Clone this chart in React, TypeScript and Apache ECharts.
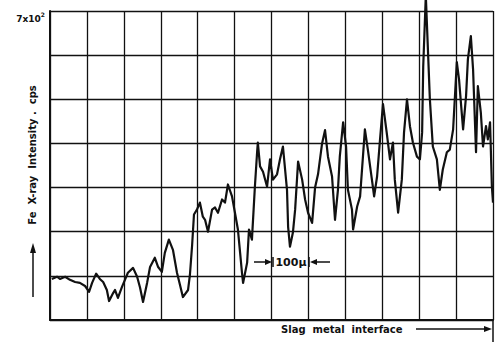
import React, { useEffect, useRef } from "react";
import * as echarts from "echarts";

// distance from the left edge of the scan (μm) and Fe X-ray intensity (cps)
const positionUm = [
  5, 19, 27, 41, 54, 68, 81, 95, 106, 114, 125, 135, 144, 154, 160, 171, 176, 184, 195, 203,
  211, 225, 236, 244, 252, 263, 271, 284, 293, 303, 311, 322, 333, 344, 352, 360, 374, 379, 385, 390,
  398, 406, 414, 420, 428, 439, 447, 455, 466, 474, 482, 493, 501, 509, 515, 520, 523, 534, 539, 547,
  555, 561, 563, 569, 577, 588, 596, 604, 615, 623, 631, 642, 645, 650, 658, 664, 672, 683, 691, 699,
  710, 718, 726, 737, 745, 753, 764, 772, 780, 785, 794, 802, 807, 818, 821, 832, 840, 853, 861, 872,
  878, 886, 894, 902, 912, 921, 929, 934, 943, 953, 959, 967, 975, 983, 994, 1002, 1008, 1011, 1018, 1029,
  1037, 1048, 1056, 1064, 1075, 1083, 1092, 1102, 1108, 1113, 1119, 1127, 1132, 1140, 1146, 1154, 1159, 1167, 1173, 1181,
  1186, 1192, 1197, 1200,
];
const intensityCps = [
  93, 98, 93, 98, 91, 86, 84, 77, 64, 84, 105, 93, 86, 68, 43, 61, 68, 50, 75, 91,
  107, 118, 98, 73, 41, 84, 120, 141, 120, 109, 152, 182, 159, 107, 80, 52, 68, 102, 170, 239,
  250, 266, 234, 227, 200, 250, 255, 243, 273, 266, 307, 280, 243, 205, 152, 107, 84, 130, 205, 182,
  302, 380, 402, 348, 336, 302, 364, 318, 330, 364, 393, 295, 211, 166, 198, 250, 359, 318, 273, 243,
  220, 300, 330, 400, 430, 370, 325, 227, 295, 370, 448, 393, 295, 250, 205, 257, 280, 432, 386, 318,
  280, 325, 409, 489, 425, 364, 402, 318, 243, 318, 425, 500, 439, 402, 370, 364, 425, 575, 735, 500,
  393, 364, 295, 341, 380, 386, 432, 584, 545, 493, 432, 507, 591, 643, 568, 380, 530, 470, 393, 439,
  409, 448, 302, 266,
];
const yTickLabels: Record<number, string> = { 700: "{a|7x10}{b|2}" };

export default function App() {
  const ref = useRef<HTMLDivElement>(null);
  useEffect(() => {
    if (!ref.current) return;
    const chart = echarts.init(ref.current, undefined, { renderer: "svg" });
    const ink = "#111";
    const font = "'DejaVu Sans', Arial, sans-serif";
    chart.setOption({
      animation: false,
      backgroundColor: "#fff",
      grid: { left: 50, right: 9, top: 11, bottom: 23 },
      xAxis: {
        type: "value",
        min: 0,
        max: 1200,
        interval: 100,
        axisLine: { show: true, onZero: false, lineStyle: { color: ink, width: 2 } },
        axisTick: { show: false },
        axisLabel: { show: false },
        splitLine: { show: true, lineStyle: { color: ink, width: 1.3 } },
      },
      yAxis: {
        type: "value",
        min: 0,
        max: 700,
        interval: 100,
        axisLine: { show: true, lineStyle: { color: ink, width: 2 } },
        axisTick: { show: false },
        axisLabel: {
          margin: 5,
          verticalAlign: "top",
          formatter: (v: number) => yTickLabels[v] || "",
          rich: {
            a: { fontSize: 9, fontWeight: "bold", color: ink, fontFamily: font, lineHeight: 12, verticalAlign: "bottom" },
            b: { fontSize: 6, fontWeight: "bold", color: ink, fontFamily: font, lineHeight: 12, verticalAlign: "top" },
          },
        },
        splitLine: { show: true, lineStyle: { color: ink, width: 1.3 } },
      },
      series: [
        {
          type: "line",
          data: positionUm.map((x, i) => [x, intensityCps[i]]),
          showSymbol: false,
          clip: false,
          lineStyle: { color: ink, width: 2.2, join: "round" },
        },
      ],
      graphic: [
        // y axis title
        {
          type: "text",
          x: 32,
          y: 155,
          rotation: Math.PI / 2,
          style: {
            text: "Fe  X-ray  Intensity .  cps",
            font: `bold 10px ${font}`,
            fill: ink,
            align: "center",
            verticalAlign: "middle",
          },
        },
        { type: "line", shape: { x1: 33, y1: 297, x2: 33, y2: 250 }, style: { stroke: ink, lineWidth: 1.5 } },
        { type: "polygon", shape: { points: [[33, 243], [30, 253], [36, 253]] }, style: { fill: ink } },
        // 100 μ scale marker
        { type: "line", shape: { x1: 254, y1: 262, x2: 268, y2: 262 }, style: { stroke: ink, lineWidth: 1.5 } },
        { type: "polygon", shape: { points: [[272, 262], [265, 259], [265, 265]] }, style: { fill: ink } },
        { type: "line", shape: { x1: 273, y1: 257, x2: 273, y2: 267 }, style: { stroke: ink, lineWidth: 1.5 } },
        {
          type: "text",
          x: 291,
          y: 262,
          style: { text: "100μ", font: `bold 11px ${font}`, fill: ink, align: "center", verticalAlign: "middle" },
        },
        { type: "line", shape: { x1: 309, y1: 257, x2: 309, y2: 267 }, style: { stroke: ink, lineWidth: 1.5 } },
        { type: "polygon", shape: { points: [[310, 262], [317, 259], [317, 265]] }, style: { fill: ink } },
        { type: "line", shape: { x1: 314, y1: 262, x2: 330, y2: 262 }, style: { stroke: ink, lineWidth: 1.5 } },
        // slag / metal interface annotation
        {
          type: "text",
          x: 281,
          y: 329,
          style: { text: "Slag  metal  interface", font: `bold 10px ${font}`, fill: ink, align: "left", verticalAlign: "middle" },
        },
        { type: "line", shape: { x1: 416, y1: 329, x2: 486, y2: 329 }, style: { stroke: ink, lineWidth: 1.5 } },
        { type: "polygon", shape: { points: [[492, 329], [484, 326], [484, 332]] }, style: { fill: ink } },
        { type: "line", shape: { x1: 493, y1: 320, x2: 493, y2: 342 }, style: { stroke: ink, lineWidth: 1.5 } },
      ],
    });
    return () => chart.dispose();
  }, []);
  return (
    <div
      ref={ref}
      style={{ position: "fixed", left: 0, top: 0, width: 502, height: 343, background: "#fff" }}
    />
  );
}
